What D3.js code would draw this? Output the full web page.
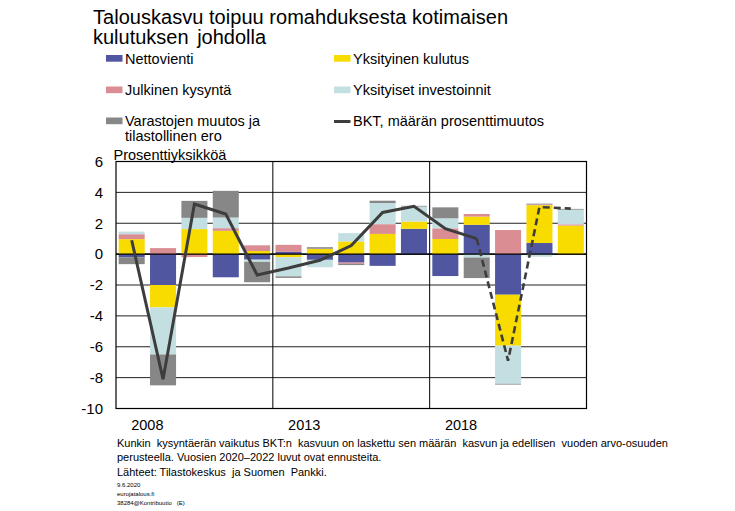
<!DOCTYPE html>
<html>
<head>
<meta charset="utf-8">
<script src="https://cdn.jsdelivr.net/npm/d3@7"></script>
<style>
  body { margin: 0; background: #fff; }
  text { font-family: "Liberation Sans", Arial, sans-serif; fill: #000; }
</style>
</head>
<body>
<div id="chart"></div>
<script>
// DATA
const years = ["2008","2009","2010","2011","2012","2013","2014","2015","2016","2017","2018","2019","2020","2021","2022"];
const nettovienti  = [-0.2, -2.0, 0.0, -1.5, -0.36, 0.15, -0.37, -0.55, -0.76, 1.64, -1.42, 1.9, -2.63, 0.72, 0.0];
const yksKulutus   = [0.97, -1.45, 1.62, 1.51, 0.2, -0.2, 0.33, 0.82, 1.31, 0.47, 0.98, 0.53, -3.3, 2.45, 1.85];
const julkinen     = [0.32, 0.39, -0.19, 0.17, 0.37, 0.45, 0.02, -0.08, 0.63, 0.0, 0.69, 0.17, 1.56, 0.05, 0.08];
const investoinnit = [0.17, -3.05, 0.73, 0.69, -0.14, -1.24, -0.48, 0.54, 1.37, 0.97, 0.65, -0.22, -2.47, -0.17, 0.95];
const varastot     = [-0.45, -2.0, 1.1, 1.73, -1.32, -0.1, 0.1, -0.08, 0.15, 0.05, 0.71, -1.33, -0.05, 0.05, 0.05];
const bkt          = [0.9, -8.1, 3.25, 2.6, -1.35, -0.9, -0.4, 0.55, 2.7, 3.1, 1.65, 1.0, -6.9, 3.05, 2.95];
const forecastFrom = "2019"; // dashed from here on
const yTicks = [-10, -8, -6, -4, -2, 0, 2, 4, 6];
const xLabels = ["2008", "2013", "2018"];

const series = [
  { key: "netto", name: "Nettovienti", values: nettovienti, color: "#5156a0" },
  { key: "kulutus", name: "Yksityinen kulutus", values: yksKulutus, color: "#f8dc00" },
  { key: "julkinen", name: "Julkinen kysyntä", values: julkinen, color: "#da8d92" },
  { key: "invest", name: "Yksityiset investoinnit", values: investoinnit, color: "#c4dfe2" },
  { key: "varasto", name: "Varastojen muutos ja|tilastollinen ero", values: varastot, color: "#878787" }
];

const W = 735, H = 511;
const plot = { left: 116, right: 586.5, top: 161.5, bottom: 408.5 };

const svg = d3.select("#chart").append("svg")
  .attr("width", W).attr("height", H);

// table for stacking
const table = years.map((y, i) => {
  const row = { year: y };
  series.forEach(s => row[s.key] = s.values[i]);
  return row;
});
const stacked = d3.stack()
  .keys(series.map(s => s.key))
  .offset(d3.stackOffsetDiverging)(table);

// SCALES
const x = d3.scaleBand().domain(years)
  .range([plot.left, plot.right])
  .paddingInner(0.17).paddingOuter(0.085);
const y = d3.scaleLinear().domain([-10, 6]).range([plot.bottom, plot.top]);
const pad = (x.step() - x.bandwidth()) / 2;

// GRIDLINES
svg.append("g").selectAll("line").data(yTicks).join("line")
  .attr("x1", plot.left).attr("x2", plot.right)
  .attr("y1", d => y(d)).attr("y2", d => y(d))
  .attr("stroke", d => d === 0 ? "#000" : "#222")
  .attr("stroke-width", d => d === 0 ? 1.3 : 1);

// BARS
svg.append("g").selectAll("g").data(stacked).join("g")
  .attr("fill", (d, i) => series[i].color)
  .selectAll("rect").data(d => d).join("rect")
  .attr("x", d => x(d.data.year))
  .attr("width", x.bandwidth())
  .attr("y", d => y(Math.max(d[0], d[1])))
  .attr("height", d => Math.abs(y(d[0]) - y(d[1])));

// zero line again on top
svg.append("line")
  .attr("x1", plot.left).attr("x2", plot.right)
  .attr("y1", y(0)).attr("y2", y(0))
  .attr("stroke", "#000").attr("stroke-width", 1.3);

// vertical separators and frame
[xLabels[1], xLabels[2]].forEach(yr => {
  svg.append("line")
    .attr("x1", x(yr) - pad).attr("x2", x(yr) - pad)
    .attr("y1", plot.top).attr("y2", plot.bottom)
    .attr("stroke", "#000").attr("stroke-width", 1);
});
svg.append("rect")
  .attr("x", plot.left).attr("y", plot.top)
  .attr("width", plot.right - plot.left).attr("height", plot.bottom - plot.top)
  .attr("fill", "none").attr("stroke", "#000").attr("stroke-width", 1.2);

// BKT LINE
const lineData = years.map((yr, i) => ({ year: yr, v: bkt[i] }));
const line = d3.line()
  .x(d => x(d.year) + x.bandwidth() / 2)
  .y(d => y(d.v));
const fi = years.indexOf(forecastFrom);
svg.append("path")
  .datum(lineData.slice(0, fi + 1))
  .attr("fill", "none").attr("stroke", "#3d3d3d")
  .attr("stroke-width", 3).attr("stroke-linejoin", "miter")
  .attr("d", line);
svg.append("path")
  .datum(lineData.slice(fi))
  .attr("fill", "none").attr("stroke", "#3d3d3d")
  .attr("stroke-width", 2.6).attr("stroke-dasharray", "7,4")
  .attr("d", line);

// AXES
const yAxis = svg.append("g")
  .attr("transform", `translate(${plot.left},0)`)
  .call(d3.axisLeft(y).tickValues(yTicks).tickSize(0).tickPadding(13)
    .tickFormat(d => String(d)));
yAxis.select(".domain").remove();
yAxis.selectAll("text")
  .style("font-family", "'Liberation Sans', Arial, sans-serif")
  .style("font-size", "15px").attr("fill", "#000");

svg.append("g").selectAll("text").data(xLabels).join("text")
  .attr("x", d => x(d) - pad + x.step())
  .attr("y", 430)
  .attr("text-anchor", "middle")
  .style("font-size", "14.5px")
  .text(d => d);

// TITLE
svg.append("text").attr("x", 93).attr("y", 23.5)
  .attr("textLength", 415).attr("lengthAdjust", "spacing")
  .style("font-size", "20px")
  .text("Talouskasvu toipuu romahduksesta kotimaisen");
svg.append("text").attr("x", 93).attr("y", 43.5)
  .style("font-size", "20px").style("word-spacing", "3px")
  .text("kulutuksen johdolla");

// LEGEND
const legendPos = [
  { x: 106, y: 63.5 }, { x: 334, y: 63.5 },
  { x: 106, y: 95 }, { x: 334, y: 95 },
  { x: 106, y: 126 }
];
series.forEach((s, i) => {
  const p = legendPos[i];
  svg.append("rect").attr("x", p.x).attr("y", p.y - 8.5)
    .attr("width", 16.5).attr("height", 6.7).attr("fill", s.color);
  const t = svg.append("text").attr("x", p.x + 19).attr("y", p.y)
    .style("font-size", "14.5px");
  s.name.split("|").forEach((part, j) => {
    t.append("tspan").attr("x", p.x + 19).attr("dy", j === 0 ? 0 : 14.5).text(part);
  });
});
svg.append("line").attr("x1", 334).attr("x2", 350.5)
  .attr("y1", 121.5).attr("y2", 121.5)
  .attr("stroke", "#3d3d3d").attr("stroke-width", 3);
svg.append("text").attr("x", 353).attr("y", 126)
  .style("font-size", "14.5px")
  .text("BKT, määrän prosenttimuutos");

svg.append("text").attr("x", 113.5).attr("y", 159.5)
  .style("font-size", "14.5px")
  .text("Prosenttiyksikköä");

// FOOTNOTE
const notes = [
  "Kunkin  kysyntäerän vaikutus BKT:n  kasvuun on laskettu sen määrän  kasvun ja edellisen  vuoden arvo-osuuden",
  "perusteella. Vuosien 2020–2022 luvut ovat ennusteita.",
  "Lähteet: Tilastokeskus  ja Suomen  Pankki."
];
notes.forEach((n, i) => {
  svg.append("text").attr("x", 117).attr("y", 447 + i * 14.3)
    .style("font-size", "11px").style("white-space", "pre")
    .text(n);
});
const small = ["9.6.2020", "eurojatalous.fi", "38284@Kontribuutio   (E)"];
small.forEach((n, i) => {
  svg.append("text").attr("x", 117).attr("y", 487 + i * 9)
    .style("font-size", "6px").attr("fill", "#aaa").style("white-space", "pre")
    .text(n);
});
</script>
</body>
</html>
